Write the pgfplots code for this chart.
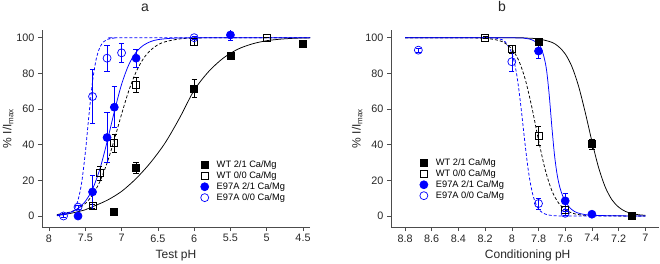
\documentclass[border=0pt]{standalone}
\usepackage{fontspec}
\setmainfont{Liberation Sans}
\usepackage{pgfplots}
\usepackage{pgfplotstable}
\pgfplotsset{compat=1.18}

\definecolor{eblue}{RGB}{0,0,255}

% ---------- panel a: test pH (mean, s.e.m.) ----------
\pgfplotstableread{
x    y     e
7.1  2.5   0
6.8  27    3
6.0  71.5  5
5.5  90    2
4.5  96.5  0
}\aWTone
\pgfplotstableread{
x    y     e
7.4  5.5   1
7.3  24    4
7.1  41    5
6.8  73.5  4
6.0  97.5  2
5.0  100   0
}\aWTzero
\pgfplotstableread{
x    y     e
7.6  0     0
7.4  13.5  9.5
7.2  44    14
7.1  61    11.5
6.8  88.5  5
5.5  101.5 3
}\aEone
\pgfplotstableread{
x    y     e
7.8  0     1
7.6  5     1
7.4  67    15
7.2  88.5  7.5
7.0  91.5  5.5
6.0  100   1
}\aEzero

% fitted curves, panel a
\pgfplotstableread{
x     y
7.89  0.3
7.7   1.5
7.5   3.5
7.4   5.2
7.2   8.8
7.0   13.8
6.8   21
6.6   30
6.4   41
6.2   55
6.0   70.5
5.8   81
5.6   88.5
5.4   93.5
5.2   96.5
5.0   98.3
4.8   99.2
4.6   99.7
4.4   99.9
}\aWToneFit
\pgfplotstableread{
x     y
7.89  0.8
7.7   2.3
7.6   4.0
7.5   7.0
7.4   11.8
7.3   19.2
7.2   29.7
7.1   42.8
7.0   57.1
6.9   70.3
6.8   80.8
6.7   88.2
6.6   93.0
6.5   96.0
6.4   97.7
6.2   99.3
6.0   99.8
5.5   100
4.4   100
}\aWTzeroFit
\pgfplotstableread{
x     y
7.89  0.6
7.7   2.2
7.6   4.3
7.5   8.2
7.4   15.1
7.3   26.2
7.2   41.5
7.1   58.5
7.0   73.8
6.9   84.9
6.8   91.8
6.7   95.7
6.6   97.8
6.5   98.9
6.3   99.7
6.0   99.9
4.4   100
}\aEoneFit
\pgfplotstableread{
x     y
7.89  0.1
7.7   1.7
7.65  3.9
7.6   8.9
7.55  18.7
7.5   35.3
7.465 50
7.45  56.4
7.4   75.4
7.35  87.9
7.3   94.5
7.25  97.6
7.2   99.0
7.1   99.8
7.0   100
4.4   100
}\aEzeroFit

% ---------- panel b: conditioning pH ----------
\pgfplotstableread{
x    y     e
7.8  97.5  1
7.4  40.2  3
7.1  0     0.5
}\bWTone
\pgfplotstableread{
x    y     e
8.2  100   0.5
8.0  93.5  2
7.8  45    5.5
7.6  3.5   2
}\bWTzero
\pgfplotstableread{
x    y     e
7.8  92.5  4
7.6  8.5   4.5
7.4  1     0
}\bEone
\pgfplotstableread{
x    y     e
8.7  93    1
8.0  86.5  5.5
7.8  7     3
7.6  1.5   1
}\bEzero

\pgfplotstableread{
x     y
8.8   100
8.0   99.95
7.9   99.8
7.8   99.3
7.7   97.4
7.65  95.0
7.6   90.9
7.55  83.8
7.5   72.8
7.45  58.1
7.4   41.9
7.35  27.2
7.3   16.2
7.25  9.1
7.2   5.0
7.15  2.6
7.1   1.4
7.05  0.7
7.0   0.4
}\bWToneFit
\pgfplotstableread{
x     y
8.8   100
8.3   99.9
8.2   99.7
8.1   98.5
8.05  96.9
8.0   93.7
7.95  87.5
7.9   76.8
7.85  61.0
7.8   42.6
7.75  26.0
7.7   14.2
7.65  7.3
7.6   3.6
7.55  1.7
7.5   0.8
7.4   0.2
7.0   0
}\bWTzeroFit
\pgfplotstableread{
x     y
8.8   100
8.0   99.9
7.9   99.6
7.85  98.8
7.8   96.5
7.78  94
7.76  89.5
7.74  82
7.72  68
7.70  50
7.68  34
7.66  23
7.64  16
7.62  11.5
7.6   8.5
7.57  5
7.53  2.5
7.48  1.2
7.4   0.4
7.2   0.1
7.0   0
}\bEoneFit
\pgfplotstableread{
x     y
8.8   100
8.2   99.95
8.1   99.4
8.05  97.7
8.0   91.3
7.97  82.1
7.95  72.5
7.93  60.2
7.915 50
7.9   39.8
7.88  27.5
7.86  18.0
7.84  11.2
7.82  6.8
7.8   4.0
7.77  1.8
7.73  0.6
7.7   0.3
7.6   0
7.0   0
}\bEzeroFit

\pgfplotsset{
  panel/.style={
    scale only axis, width=268pt, height=197pt,
    anchor=south west,
    axis lines*=left,
    axis line style={black!70, line width=0.6pt},
    tick align=outside,
    major tick length=4pt,
    tick style={black!70, line width=0.6pt},
    x dir=reverse,
    ymin=-6.17, ymax=104.3,
    ytick={0,20,...,100},
    /pgf/number format/assume math mode=true,
    tick label style={font=\fontsize{10.8}{12}\selectfont, text=black!85},
    label style={font=\fontsize{12}{14}\selectfont, text=black!85},
    ylabel={\% I/I\textsubscript{max}},
    y label style={at={(axis description cs:-0.1138,0.5)}, anchor=base},
    legend cell align=left,
    legend style={draw=none, fill=none, inner sep=0pt,
      font=\fontsize{9.3}{11}\selectfont,
      nodes={inner sep=1pt, text height=6.8pt, text depth=1.8pt},
      row sep=0.3pt,
      /tikz/every odd column/.append style={column sep=7pt}},
  },
  fitline/.style={line width=0.75pt, smooth, no marks, forget plot},
  datapts/.style={only marks, line width=0.7pt,
    error bars/y dir=both, error bars/y explicit,
    error bars/error bar style={line width=0.6pt},
    error bars/error mark options={rotate=90, mark size=2.6pt, line width=0.6pt}},
}

\begin{document}
\begin{tikzpicture}
\useasboundingbox (0,0) rectangle (660pt,263pt);

\node[font=\fontsize{14}{16}\selectfont, text=black!85] at (145pt,255.5pt) {a};
\node[font=\fontsize{14}{16}\selectfont, text=black!85] at (502pt,257pt) {b};

% ----- panel a -----
\begin{axis}[panel, at={(42pt,36pt)},
  xmin=4.4035, xmax=8.0965,
  xtick={8,7.5,7,6.5,6,5.5,5,4.5},
  xlabel={Test pH},
  x label style={at={(axis description cs:0.5,-0.1574)}, anchor=base},
  legend style={at={(axis description cs:0.5915,0.343)}, anchor=north west},
]
\addplot[fitline, black] table[x=x,y=y] {\aWToneFit};
\addplot[fitline, black, dash pattern=on 3pt off 2pt] table[x=x,y=y] {\aWTzeroFit};
\addplot[fitline, eblue] table[x=x,y=y] {\aEoneFit};
\addplot[fitline, eblue, dash pattern=on 3pt off 2pt] table[x=x,y=y] {\aEzeroFit};

\addplot[datapts, black, mark=square*, mark size=3.5pt] table[x=x,y=y,y error=e] {\aWTone};
\addlegendentry{WT 2/1 Ca/Mg}
\addplot[datapts, black, mark=square, mark size=3.5pt] table[x=x,y=y,y error=e] {\aWTzero};
\addlegendentry{WT 0/0 Ca/Mg}
\addplot[datapts, eblue, mark=*, mark size=4pt] table[x=x,y=y,y error=e] {\aEone};
\addlegendentry{E97A 2/1 Ca/Mg}
\addplot[datapts, eblue, mark=o, mark size=4pt] table[x=x,y=y,y error=e] {\aEzero};
\addlegendentry{E97A 0/0 Ca/Mg}
\end{axis}

% ----- panel b -----
\begin{axis}[panel, at={(391pt,36pt)},
  xmin=6.8974, xmax=8.905,
  xtick={8.8,8.6,8.4,8.2,8,7.8,7.6,7.4,7.2,7},
  xlabel={Conditioning pH},
  x label style={at={(axis description cs:0.51,-0.1574)}, anchor=base},
  legend style={at={(axis description cs:0.107,0.353)}, anchor=north west},
]
\addplot[fitline, black] table[x=x,y=y] {\bWToneFit};
\addplot[fitline, black, dash pattern=on 3pt off 2pt] table[x=x,y=y] {\bWTzeroFit};
\addplot[fitline, eblue] table[x=x,y=y] {\bEoneFit};
\addplot[fitline, eblue, dash pattern=on 3pt off 2pt] table[x=x,y=y] {\bEzeroFit};

\addplot[datapts, black, mark=square*, mark size=3.5pt] table[x=x,y=y,y error=e] {\bWTone};
\addlegendentry{WT 2/1 Ca/Mg}
\addplot[datapts, black, mark=square, mark size=3.5pt] table[x=x,y=y,y error=e] {\bWTzero};
\addlegendentry{WT 0/0 Ca/Mg}
\addplot[datapts, eblue, mark=*, mark size=4pt] table[x=x,y=y,y error=e] {\bEone};
\addlegendentry{E97A 2/1 Ca/Mg}
\addplot[datapts, eblue, mark=o, mark size=4pt] table[x=x,y=y,y error=e] {\bEzero};
\addlegendentry{E97A 0/0 Ca/Mg}
\end{axis}
\end{tikzpicture}
\end{document}
